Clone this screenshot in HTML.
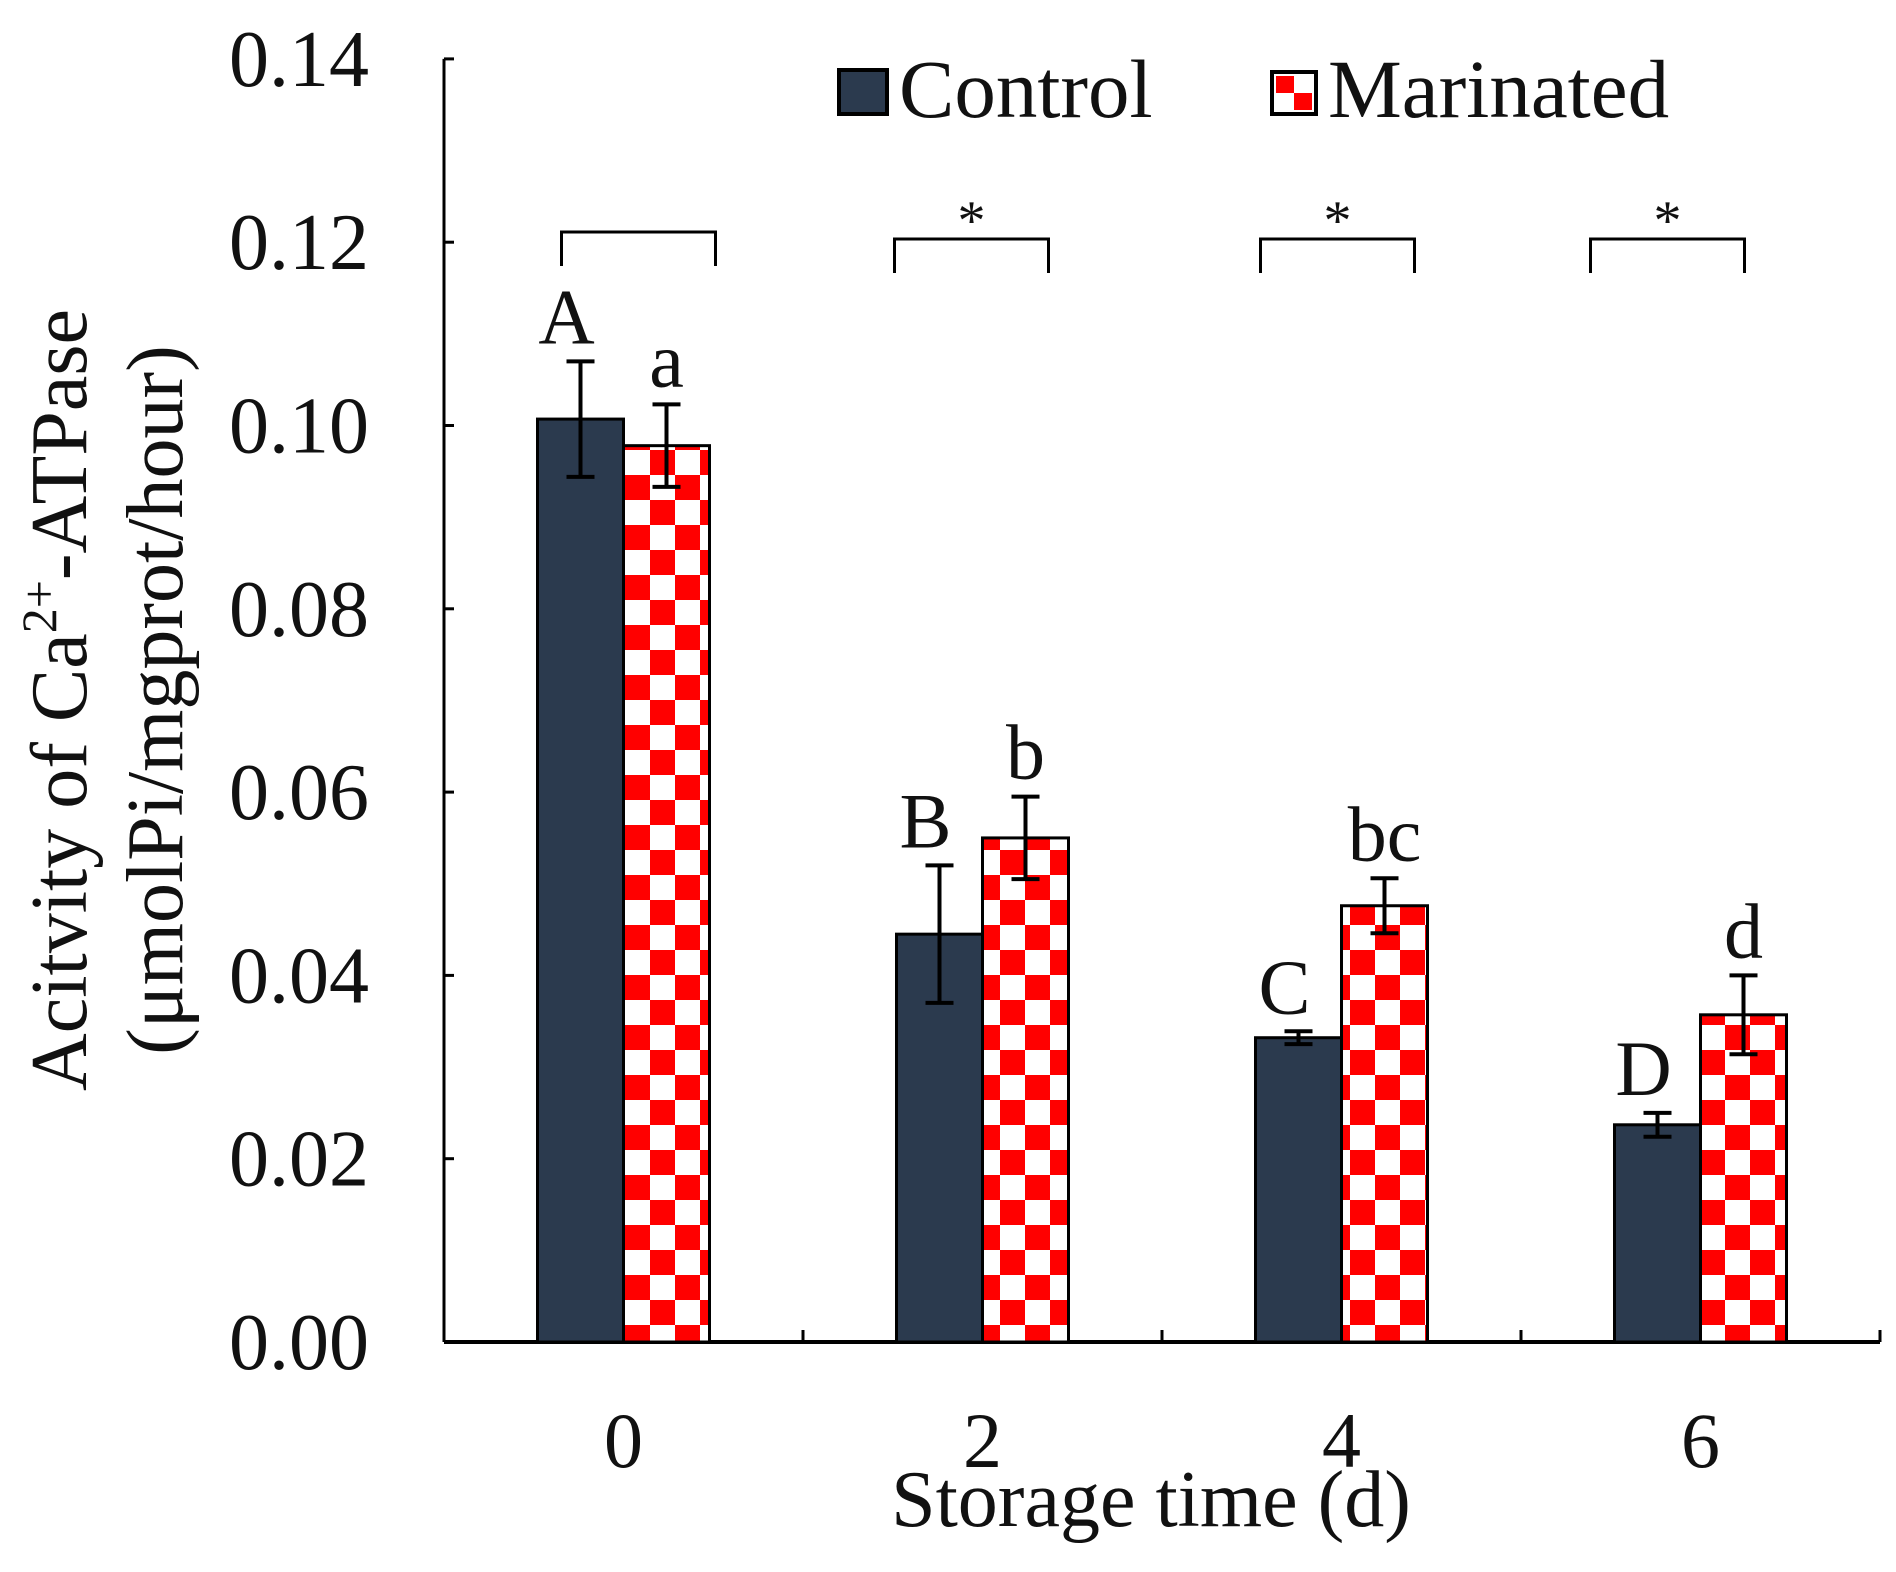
<!DOCTYPE html>
<html><head><meta charset="utf-8"><style>body{margin:0;background:#fff}svg{display:block}text{font-family:"Liberation Serif",serif;fill:#111}</style></head>
<body>
<svg id="c" width="1896" height="1572" viewBox="0 0 1896 1572">
<defs><pattern id="chk" width="50" height="50" patternUnits="userSpaceOnUse"><rect width="50" height="50" fill="#fff"/><rect width="25" height="25" fill="#f00"/><rect x="25" y="25" width="25" height="25" fill="#f00"/></pattern></defs>
<g id="g"></g>
</svg>
<script>
const categories=["0","2","4","6"];
const controlVals=[0.1007,0.0445,0.0332,0.0237];
const controlErr=[0.0063,0.0075,0.0007,0.0013];
const marinVals=[0.0978,0.0550,0.0476,0.0357];
const marinErr=[0.0045,0.0045,0.0030,0.0043];
const controlLetters=["A","B","C","D"];
const marinLetters=["a","b","bc","d"];
const sigMarks=["","*","*","*"];
const yTicks=[0,0.02,0.04,0.06,0.08,0.10,0.12,0.14];
const bracketShift=[15,-11,-4,-33];
const NS="http://www.w3.org/2000/svg",g=document.getElementById('g');
const x0=444,x1=1880,y0=1342,ppu=183.3/0.02,cw=(x1-x0)/categories.length,bw=86;
const Y=v=>y0-v*ppu, XC=i=>x0+cw*(i+0.5);
function el(t,a,p){const e=document.createElementNS(NS,t);for(const k in a)e.setAttribute(k,a[k]);(p||g).appendChild(e);return e;}
let ax=el('line',{x1:x0,y1:y0,x2:x1,y2:y0,stroke:'#000','stroke-width':4});

let ay=el('line',{x1:x0,y1:Y(0.14),x2:x0,y2:y0,stroke:'#000','stroke-width':3});

yTicks.forEach(v=>{
  el('line',{x1:x0,y1:Y(v),x2:x0+10,y2:Y(v),stroke:'#000','stroke-width':3});
  const t=el('text',{x:369,y:Y(v)+27,'text-anchor':'end','font-size':80});t.textContent=v.toFixed(2);
  
});
for(let i=1;i<=categories.length;i++)el('line',{x1:x0+cw*i,y1:y0,x2:x0+cw*i,y2:y0-12,stroke:'#000','stroke-width':3});
function errbar(cx,v,e){
  el('line',{x1:cx,y1:Y(v+e),x2:cx,y2:Y(v-e),stroke:'#000','stroke-width':4});
  el('line',{x1:cx-14,y1:Y(v+e),x2:cx+14,y2:Y(v+e),stroke:'#000','stroke-width':4});
  el('line',{x1:cx-14,y1:Y(v-e),x2:cx+14,y2:Y(v-e),stroke:'#000','stroke-width':4});
}
categories.forEach((c,i)=>{
  const cx=XC(i);
  let b=el('rect',{x:cx-bw,y:Y(controlVals[i]),width:bw,height:Y(0)-Y(controlVals[i]),fill:'#2b3a4e',stroke:'#000','stroke-width':3});
  
  let m=el('rect',{x:cx,y:Y(marinVals[i]),width:bw,height:Y(0)-Y(marinVals[i]),fill:'url(#chk)',stroke:'#000','stroke-width':3});
  
  errbar(cx-bw/2,controlVals[i],controlErr[i]);
  errbar(cx+bw/2,marinVals[i],marinErr[i]);
  let l1=el('text',{x:cx-bw/2-14,y:Y(controlVals[i]+controlErr[i])-18,'text-anchor':'middle','font-size':78});l1.textContent=controlLetters[i];
  
  let l2=el('text',{x:cx+bw/2,y:Y(marinVals[i]+marinErr[i])-18,'text-anchor':'middle','font-size':78});l2.textContent=marinLetters[i];
  
  const bt=i==0?232:239, bc=cx+bracketShift[i];
  let br=el('path',{d:`M${bc-77} ${bt+34}V${bt}H${bc+77}V${bt+34}`,fill:'none',stroke:'#000','stroke-width':3});
  
  if(sigMarks[i]){let s=el('text',{x:bc,y:bt,'text-anchor':'middle','font-size':56});s.textContent=sigMarks[i];
  }
  let xl=el('text',{x:cx,y:1467,'text-anchor':'middle','font-size':78});xl.textContent=c;
  
});
</script>
<script>
const s=document.getElementById('c');
s.insertAdjacentHTML('beforeend',`
<text x="1151" y="1526" text-anchor="middle" font-size="80">Storage time (d)</text>
<g transform="translate(0,700) rotate(-90)">
<text x="0" y="86" text-anchor="middle" font-size="80">Acitvity of Ca<tspan font-size="50" dy="-30">2+</tspan><tspan dy="30">-ATPase</tspan></text>
<text x="0" y="182" text-anchor="middle" font-size="80">(μmolPi/mgprot/hour)</text></g>
<g>
<rect x="839" y="70" width="48" height="44" fill="#2b3a4e" stroke="#000" stroke-width="4"/>
<text x="899" y="117" font-size="83">Control</text>
<rect x="1272" y="72" width="44" height="42" fill="#fff" stroke="#000" stroke-width="4"/>
<rect x="1276" y="76" width="18" height="17" fill="#f00"/><rect x="1294" y="93" width="18" height="17" fill="#f00"/>
<text x="1328" y="117" font-size="83">Marinated</text></g>`);
</script>
</body></html>
